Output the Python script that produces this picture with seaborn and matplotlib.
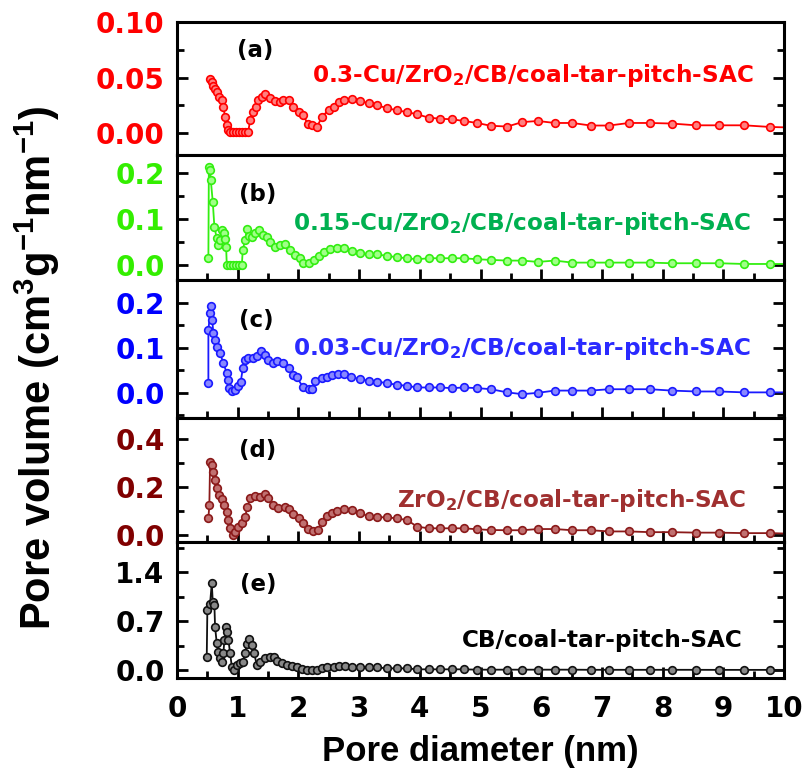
import numpy as np
import pandas as pd
import matplotlib
matplotlib.use("Agg")
import matplotlib.pyplot as plt
from matplotlib.ticker import MultipleLocator
import seaborn as sns

# ---------------- data ----------------
tail_x = [3.020, 3.157, 3.295, 3.460, 3.625, 3.790, 3.955, 4.147, 4.340, 4.533, 4.724, 4.946,
          5.165, 5.441, 5.688, 5.946, 6.221, 6.513, 6.815, 7.117, 7.447, 7.794, 8.147, 8.548,
          8.932, 9.345, 9.774, 10.2]

a_x = [0.545, 0.573, 0.599, 0.627, 0.655, 0.698, 0.738, 0.764, 0.792, 0.820, 0.847,
       0.875, 0.924, 0.974, 1.023, 1.073, 1.122, 1.172,
       1.205, 1.249, 1.304, 1.342, 1.398, 1.452, 1.535, 1.617, 1.700, 1.749, 1.837, 1.919,
       2.002, 2.084, 2.150, 2.223, 2.305, 2.388, 2.497, 2.579, 2.662, 2.744, 2.883] + tail_x
a_y = [0.049, 0.0458, 0.0428, 0.0399, 0.0369, 0.0330, 0.0295, 0.0235, 0.0146, 0.0071, 0.0027,
       0.001, 0.001, 0.001, 0.001, 0.001, 0.001, 0.001,
       0.0116, 0.019, 0.0235, 0.0295, 0.033, 0.0354, 0.0319, 0.0288, 0.028, 0.030, 0.030, 0.024,
       0.019, 0.016, 0.0087, 0.0071, 0.0056, 0.0146, 0.021, 0.024, 0.028, 0.0295, 0.031,
       0.0288, 0.027, 0.025, 0.0226, 0.0205, 0.019, 0.017, 0.014, 0.013, 0.0125, 0.011, 0.0092,
       0.0067, 0.006, 0.010, 0.011, 0.0092, 0.0092, 0.0069, 0.0069, 0.0092, 0.0092, 0.0087, 0.0071,
       0.0071, 0.0071, 0.0056, 0.005]

b_x = [0.517, 0.525, 0.545, 0.556, 0.589, 0.616, 0.655, 0.682, 0.710, 0.738, 0.776, 0.792, 0.809,
       0.820, 0.875, 0.924, 0.974, 1.023, 1.068,
       1.084, 1.122, 1.150, 1.193, 1.233, 1.287, 1.358, 1.424, 1.480, 1.535, 1.617, 1.700, 1.782,
       1.865, 1.947, 2.030, 2.084, 2.167, 2.249, 2.332, 2.414, 2.525, 2.635, 2.744, 2.883] + tail_x
b_y = [0.0146, 0.214, 0.207, 0.186, 0.138, 0.083, 0.058, 0.043, 0.054, 0.076, 0.069, 0.056, 0.040,
       0.0, 0.0, 0.0, 0.0, 0.0, 0.0,
       0.033, 0.054, 0.078, 0.063, 0.060, 0.070, 0.076, 0.065, 0.060, 0.051, 0.038, 0.043, 0.046,
       0.033, 0.022, 0.0146, 0.0036, 0.0036, 0.011, 0.0196, 0.029, 0.034, 0.036, 0.036, 0.031,
       0.025, 0.024, 0.023, 0.0196, 0.0167, 0.0145, 0.0123, 0.0145, 0.0145, 0.0145, 0.0145, 0.0123,
       0.011, 0.0094, 0.0094, 0.0065, 0.0094, 0.005, 0.005, 0.005, 0.005, 0.005, 0.0036, 0.0036,
       0.0036, 0.002, 0.002, 0.002]

c_x = [0.517, 0.517, 0.545, 0.565, 0.580, 0.599, 0.627, 0.665, 0.710, 0.764, 0.820, 0.847, 0.863,
       0.903, 0.957, 1.012, 1.051, 1.084, 1.122, 1.177, 1.259, 1.325, 1.381, 1.452, 1.507, 1.579,
       1.655, 1.754, 1.837, 1.909, 1.975, 2.074, 2.167, 2.223, 2.277, 2.388, 2.470, 2.553, 2.645,
       2.756, 2.866] + tail_x
c_y = [0.0215, 0.14, 0.177, 0.193, 0.162, 0.133, 0.118, 0.103, 0.088, 0.066, 0.044, 0.029, 0.010,
       0.003, 0.0067, 0.0156, 0.025, 0.055, 0.073, 0.077, 0.077, 0.082, 0.092, 0.084, 0.073, 0.066,
       0.070, 0.067, 0.055, 0.040, 0.035, 0.0126, 0.0082, 0.0082, 0.027, 0.034, 0.036, 0.040, 0.0415,
       0.0415, 0.036,
       0.030, 0.027, 0.025, 0.0215, 0.0178, 0.0156, 0.0119, 0.0119, 0.0119, 0.0104, 0.0119, 0.0104,
       0.0082, 0.001, -0.003, 0.0, 0.005, 0.005, 0.005, 0.008, 0.008, 0.008, 0.005, 0.003, 0.003,
       0.001, 0.001, 0.001]

d_x = [0.517, 0.533, 0.545, 0.573, 0.599, 0.627, 0.655, 0.698, 0.738, 0.776, 0.820, 0.847, 0.875,
       0.919, 0.957, 1.012, 1.068, 1.122, 1.160, 1.205, 1.287, 1.370, 1.452, 1.507, 1.589, 1.672,
       1.782, 1.853, 1.919, 2.002, 2.084, 2.150, 2.239, 2.315, 2.388, 2.470, 2.553, 2.635, 2.744,
       2.883] + tail_x
d_y = [0.07, 0.125, 0.305, 0.29, 0.264, 0.229, 0.195, 0.167, 0.149, 0.125, 0.097, 0.0625, 0.028,
       0.0, 0.014, 0.035, 0.049, 0.076, 0.118, 0.153, 0.1625, 0.157, 0.171, 0.153, 0.125, 0.111,
       0.115, 0.107, 0.0875, 0.069, 0.049, 0.024, 0.018, 0.021, 0.056, 0.079, 0.090, 0.101, 0.107,
       0.104,
       0.090, 0.079, 0.074, 0.074, 0.069, 0.0625, 0.035, 0.028, 0.028, 0.028, 0.028, 0.024,
       0.021, 0.02, 0.02, 0.025, 0.025, 0.02, 0.02, 0.015, 0.015, 0.012, 0.012, 0.01, 0.01,
       0.008, 0.008, 0.005]

e_x = [0.490, 0.500, 0.545, 0.573, 0.589, 0.616, 0.627, 0.655, 0.682, 0.710, 0.738, 0.764, 0.781,
       0.809, 0.830, 0.847, 0.875, 0.903, 0.941, 0.985, 1.040, 1.084, 1.122, 1.150, 1.193, 1.233,
       1.271, 1.315, 1.370, 1.452, 1.535, 1.601, 1.655, 1.728, 1.810, 1.893, 1.975, 2.058, 2.140,
       2.223, 2.305, 2.388, 2.470, 2.579, 2.662, 2.772, 2.883] + tail_x
e_y = [0.18, 0.857, 0.95, 1.24, 0.976, 0.93, 0.62, 0.38, 0.26, 0.17, 0.12, 0.24, 0.43,
       0.62, 0.55, 0.43, 0.24, 0.048, 0.0, 0.07, 0.10, 0.12, 0.24, 0.37, 0.44, 0.36,
       0.24, 0.07, 0.12, 0.17, 0.18, 0.19, 0.13, 0.095, 0.07, 0.057, 0.038, 0.01, 0.0,
       0.0, 0.0, 0.024, 0.038, 0.048, 0.057, 0.057, 0.048,
       0.038, 0.038, 0.038, 0.024, 0.024, 0.024, 0.01, 0.01, 0.01, 0.01, 0.01, 0.005,
       0.005, 0.005, 0.005, 0.005, 0.005, 0.005, 0.003, 0.003, 0.003, 0.003, 0.003, 0.003,
       0.002, 0.002, 0.002, 0.002]

labels = ["(a)", "(b)", "(c)", "(d)", "(e)"]
names = [r"0.3-Cu/ZrO$_\mathbf{2}$/CB/coal-tar-pitch-SAC",
         r"0.15-Cu/ZrO$_\mathbf{2}$/CB/coal-tar-pitch-SAC",
         r"0.03-Cu/ZrO$_\mathbf{2}$/CB/coal-tar-pitch-SAC",
         r"ZrO$_\mathbf{2}$/CB/coal-tar-pitch-SAC",
         "CB/coal-tar-pitch-SAC"]
x_ticks = list(range(0, 11))

# ---------------- style ----------------
sns.set_theme(style="ticks")
plt.rcParams["font.family"] = ["DejaVu Sans"]
plt.rcParams["font.weight"] = "bold"
plt.rcParams["text.color"] = "black"
plt.rcParams["axes.labelcolor"] = "black"
plt.rcParams["xtick.color"] = "black"
plt.rcParams["ytick.color"] = "black"
plt.rcParams["mathtext.fontset"] = "custom"
plt.rcParams["mathtext.rm"] = "DejaVu Sans:bold"
plt.rcParams["mathtext.bf"] = "DejaVu Sans:bold"
plt.rcParams["mathtext.it"] = "DejaVu Sans:bold"

W, H = 805, 775
fig = plt.figure(figsize=(W / 100, H / 100), dpi=100)

def fx(px):
    return px / W

def fy(py):
    return 1 - py / H

bounds = [22, 155, 280, 418, 542, 678]
left_px, right_px = 177, 784

series = [(a_x, a_y), (b_x, b_y), (c_x, c_y), (d_x, d_y), (e_x, e_y)]
line_colors = ["#ff0000", "#33ee11", "#1a1aff", "#8b1a1a", "#111111"]
face_colors = ["#ff8080", "#a0ff88", "#8888ff", "#c07070", "#888888"]
tick_colors = ["#ff0000", "#33ee00", "#0000ff", "#800000", "#000000"]
text_colors = ["#ff0000", "#00b050", "#2a2aff", "#a03030", "#000000"]
ylims = [(-0.0196, 0.10), (-0.033, 0.24), (-0.056, 0.251), (-0.029, 0.4875), (-0.114, 1.83)]
majors = [0.05, 0.1, 0.1, 0.2, 0.7]
ymax_tick = [0.10, 0.2, 0.2, 0.4, 1.4]
fmts = ["{:.2f}", "{:.1f}", "{:.1f}", "{:.1f}", "{:.1f}"]

label_pos = [(255, 50), (258, 195), (256, 321), (258, 450), (258, 584)]
name_pos = [(312, 82), (293, 230), (293, 355), (397, 507), (462, 647)]

axes = []
for i in range(5):
    top, bot = bounds[i], bounds[i + 1]
    ax = fig.add_axes([fx(left_px), fy(bot), fx(right_px) - fx(left_px), (bot - top) / H])
    axes.append(ax)
    xs, ys = series[i]
    df = pd.DataFrame({"x": xs, "y": ys})
    sns.lineplot(data=df, x="x", y="y", ax=ax, sort=False, estimator=None,
                 color=line_colors[i], lw=1.3, marker="o", markersize=5.5,
                 markerfacecolor=face_colors[i], markeredgecolor=line_colors[i],
                 markeredgewidth=1.2)
    ax.set_xlim(0, 10)
    ax.set_ylim(*ylims[i])
    ax.set_xlabel("")
    ax.set_ylabel("")
    m = majors[i]
    ticks = [k * m for k in range(int(round(ymax_tick[i] / m)) + 1)]
    ax.set_yticks(ticks)
    ax.set_yticklabels([fmts[i].format(t) for t in ticks])
    ax.yaxis.set_minor_locator(MultipleLocator(m / 2))
    ax.set_xticks(x_ticks)
    ax.xaxis.set_minor_locator(MultipleLocator(0.5))
    for s in ax.spines.values():
        s.set_linewidth(2.2)
        s.set_color("black")
    ax.tick_params(axis="y", which="both", direction="in", left=True, right=True,
                   labelsize=20, labelcolor=tick_colors[i], pad=9, color="black")
    ax.tick_params(axis="y", which="major", length=8, width=2)
    ax.tick_params(axis="y", which="minor", length=5, width=2)
    ax.tick_params(axis="x", which="both", direction="in", top=False, color="black",
                   bottom=(i > 0), labelbottom=(i == 4), labelsize=20, pad=12,
                   labelcolor="black")
    ax.tick_params(axis="x", which="major", length=8, width=2)
    ax.tick_params(axis="x", which="minor", length=5, width=2)
    for lab in ax.get_yticklabels() + ax.get_xticklabels():
        lab.set_fontweight("bold")

    lx, ly = label_pos[i]
    fig.text(fx(lx), fy(ly), labels[i], ha="center", va="center",
             fontsize=16.5, fontweight="bold", color="black")
    nx, ny = name_pos[i]
    fig.text(fx(nx), fy(ny), names[i], ha="left", va="baseline",
             fontsize=16.7, fontweight="bold", color=text_colors[i])

fig.text(fx((left_px + right_px) / 2), fy(752), "Pore diameter (nm)", ha="center",
         va="center", fontsize=25, fontweight="bold", color="black",
         family=["Liberation Sans", "DejaVu Sans"])
ylab = fig.text(fx(37), fy(368),
                r"Pore volume (cm$^\mathregular{3}$g$^\mathregular{-1}$nm$^\mathregular{-1}$)",
                ha="center", va="center", rotation=90, fontsize=30, fontweight="bold",
                color="black", family=["Liberation Sans", "DejaVu Sans"])

fig.savefig("out.png", dpi=100)
